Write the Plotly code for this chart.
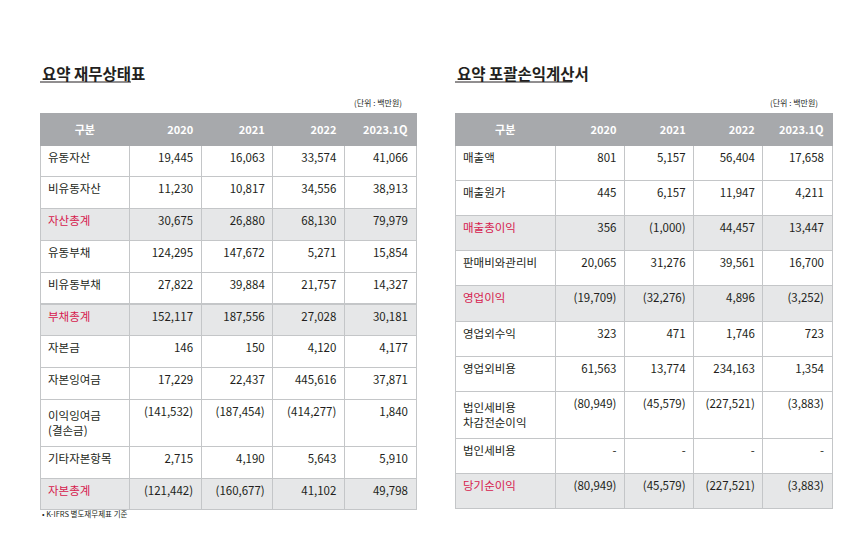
import plotly.graph_objects as go

# 요약 재무상태표
bs_items = ["유동자산", "비유동자산", "자산총계", "유동부채", "비유동부채", "부채총계",
            "자본금", "자본잉여금", "이익잉여금<br>(결손금)", "기타자본항목", "자본총계"]
bs_2020 = ["19,445", "11,230", "30,675", "124,295", "27,822", "152,117",
           "146", "17,229", "(141,532)", "2,715", "(121,442)"]
bs_2021 = ["16,063", "10,817", "26,880", "147,672", "39,884", "187,556",
           "150", "22,437", "(187,454)", "4,190", "(160,677)"]
bs_2022 = ["33,574", "34,556", "68,130", "5,271", "21,757", "27,028",
           "4,120", "445,616", "(414,277)", "5,643", "41,102"]
bs_2023q1 = ["41,066", "38,913", "79,979", "15,854", "14,327", "30,181",
             "4,177", "37,871", "1,840", "5,910", "49,798"]
bs_total = {"자산총계", "부채총계", "자본총계"}

# 요약 포괄손익계산서
is_items = ["매출액", "매출원가", "매출총이익", "판매비와관리비", "영업이익", "영업외수익",
            "영업외비용", "법인세비용<br>차감전순이익", "법인세비용", "당기순이익"]
is_2020 = ["801", "445", "356", "20,065", "(19,709)", "323", "61,563", "(80,949)", "-", "(80,949)"]
is_2021 = ["5,157", "6,157", "(1,000)", "31,276", "(32,276)", "471", "13,774", "(45,579)", "-", "(45,579)"]
is_2022 = ["56,404", "11,947", "44,457", "39,561", "4,896", "1,746", "234,163", "(227,521)", "-", "(227,521)"]
is_2023q1 = ["17,658", "4,211", "13,447", "16,700", "(3,252)", "723", "1,354", "(3,883)", "-", "(3,883)"]
is_total = {"매출총이익", "영업이익", "당기순이익"}

headers = ["구분", "2020", "2021", "2022", "2023.1Q"]

FONT = "Noto Sans CJK KR"
HEAD_BG = "#a7a9ac"
HL_BG = "#e6e7e8"
RED = "#d6204e"
LINE = "#c4c6c8"
W, H = 868, 535
OFF = 8  # page offset seen in the rendered screenshot


def px_x(v):
    return (v - OFF) / W


def px_y(v):
    return 1 - (v - OFF) / H


def make_table(items, cols, totals, x0, x1, row_h, widths):
    fills = [HL_BG if it in totals else "white" for it in items]
    label_colors = [RED if it in totals else "#231f20" for it in items]
    return go.Table(
        domain=dict(x=[px_x(x0), px_x(x1)], y=[0, px_y(113)]),
        columnwidth=widths,
        header=dict(values=["<b>%s</b>" % h for h in headers],
                    fill_color=HEAD_BG, line=dict(color=HEAD_BG, width=1),
                    font=dict(family=FONT, size=11, color="white"),
                    align=["center", "right", "right", "right", "right"],
                    height=25),
        cells=dict(values=[items] + cols,
                   fill_color=[fills] * 5,
                   line=dict(color=LINE, width=1),
                   font=dict(family=FONT, size=11.5,
                             color=[label_colors] + ["#231f20"] * 4),
                   align=["left", "right", "right", "right", "right"],
                   height=row_h),
    )


fig = go.Figure()
fig.add_trace(make_table(bs_items, [bs_2020, bs_2021, bs_2022, bs_2023q1], bs_total,
                         40, 416, 31.8, [90, 72, 72, 72, 72]))
fig.add_trace(make_table(is_items, [is_2020, is_2021, is_2022, is_2023q1], is_total,
                         455, 832, 35.2, [100, 69, 69, 69, 69]))

annos = [
    dict(x=40, y=73, text="<b>요약 재무상태표</b>", size=15.5, xa="left"),
    dict(x=455, y=73, text="<b>요약 포괄손익계산서</b>", size=15.5, xa="left"),
    dict(x=404, y=102, text="(단위 : 백만원)", size=8, xa="right"),
    dict(x=820, y=102, text="(단위 : 백만원)", size=8, xa="right"),
    dict(x=40, y=513, text="• K-IFRS 별도재무제표 기준", size=7.5, xa="left"),
]
for a in annos:
    fig.add_annotation(x=px_x(a["x"]), y=px_y(a["y"]), xref="paper", yref="paper", text=a["text"],
                       showarrow=False, xanchor=a["xa"], yanchor="middle",
                       font=dict(family=FONT, size=a["size"], color="#231f20"))

# title underlines
for x0, x1 in [(40, 131), (455, 572)]:
    fig.add_shape(type="line", xref="paper", yref="paper",
                  x0=px_x(x0), x1=px_x(x1), y0=px_y(82), y1=px_y(82),
                  line=dict(color="#231f20", width=1))

fig.update_layout(width=W, height=H, margin=dict(l=0, r=0, t=0, b=0),
                  paper_bgcolor="white", plot_bgcolor="white")
fig.write_html("out.html")
